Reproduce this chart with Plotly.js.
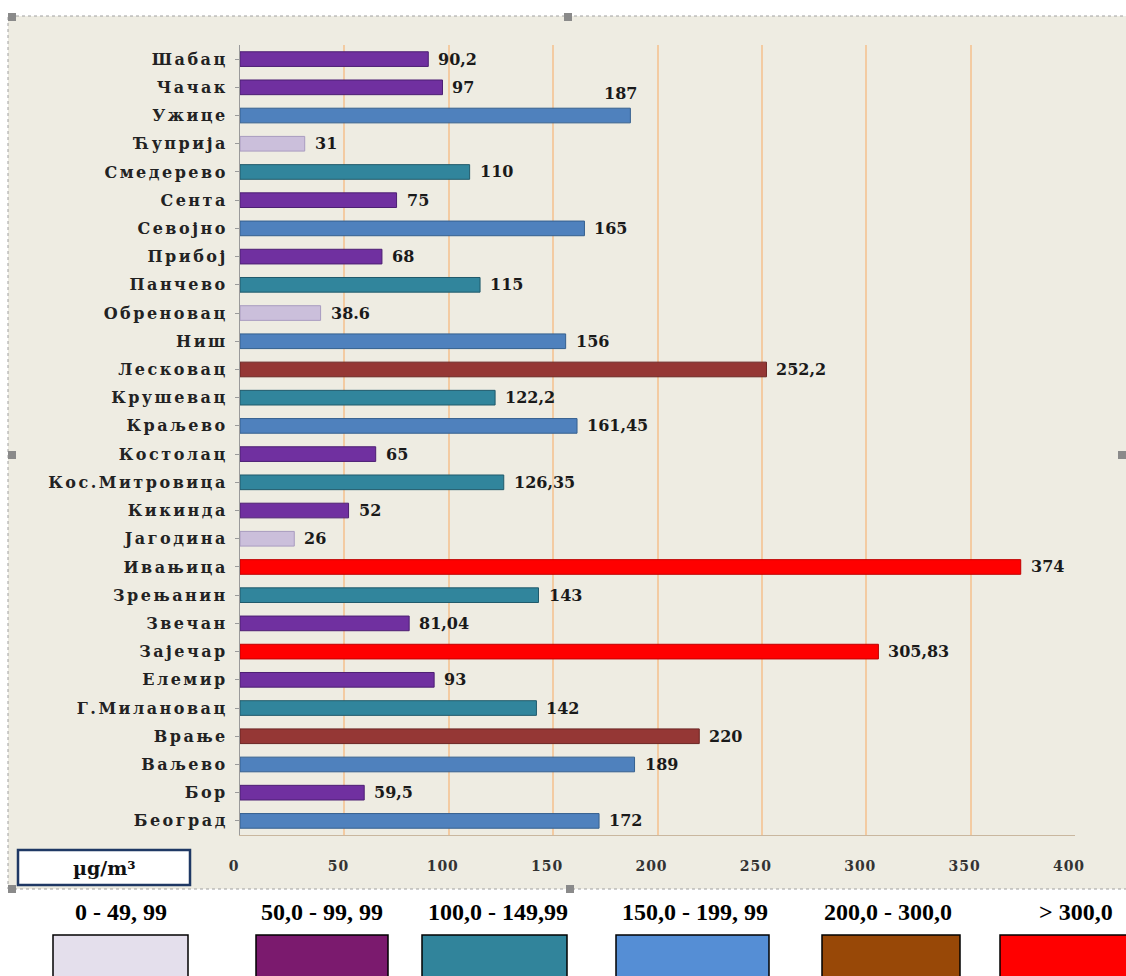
<!DOCTYPE html>
<html><head><meta charset="utf-8">
<script src="https://cdn.plot.ly/plotly-3.0.1.min.js"></script>
<style>
html,body{margin:0;padding:0;background:#fff;}
#chart{width:1126px;height:976px;}
#chart g.ytick text{letter-spacing:2.5px;}
#chart g.xtick text{letter-spacing:1px;}
</style>
</head><body><div id="chart"></div>
<script>
// Categories (bottom to top)
const cities = ["Београд","Бор","Ваљево","Врање","Г.Милановац","Елемир","Зајечар","Звечан","Зрењанин","Ивањица","Јагодина","Кикинда","Кос.Митровица","Костолац","Краљево","Крушевац","Лесковац","Ниш","Обреновац","Панчево","Прибој","Севојно","Сента","Смедерево","Ћуприја","Ужице","Чачак","Шабац"];
const values = [172,59.5,189,220,142,93,305.83,81.04,143,374,26,52,126.35,65,161.45,122.2,252.2,156,38.6,115,68,165,75,110,31,187,97,90.2];
const valueLabels = ["172","59,5","189","220","142","93","305,83","81,04","143","374","26","52","126,35","65","161,45","122,2","252,2","156","38.6","115","68","165","75","110","31","187","97","90,2"];
const xTicks = [0,50,100,150,200,250,300,350,400];
const classLabels = ["0 - 49, 99","50,0 - 99, 99","100,0 - 149,99","150,0 - 199, 99","200,0 - 300,0","> 300,0"];
const classLower = [0,50,100,150,200,300];
const barColors = ["#cbbfdb","#7030a0","#31859c","#4f81bd","#953735","#ff0000"];
const barLines = ["#a99cc0","#4d1f73","#205a6b","#35608f","#6b2523","#c00000"];
const legendColors = ["#e4dfec","#7b1a6e","#31849b","#558ed5","#984807","#ff0000"];
const unitLabel = "µg/m³";

function cls(v){let c=0;for(let i=0;i<classLower.length;i++){if(v>=classLower[i])c=i;}return c;}
const colors = values.map(v=>barColors[cls(v)]);
const lines = values.map(v=>barLines[cls(v)]);

const serif = "DejaVu Serif, Liberation Serif, serif";
const tserif = "Liberation Serif, Times New Roman, serif";
const trace = {
  type:"bar", orientation:"h", y:cities, x:values,
  marker:{color:colors, line:{color:lines, width:1}},
  hoverinfo:"none"
};

// geometry helpers (paper coords)
const L=240, R=1075, T=45, B=835;
const px = p => (p-L)/(R-L);
const py = p => (B-p)/(B-T);

const shapes = [
  {type:"rect", xref:"paper", yref:"paper", x0:px(8), x1:px(1140), y0:py(889), y1:py(16), fillcolor:"#eeece2", line:{color:"#a0a0a0", width:1, dash:"dot"}, layer:"below"},
  {type:"rect", xref:"paper", yref:"paper", x0:px(18), x1:px(190), y0:py(885), y1:py(850), fillcolor:"#ffffff", line:{color:"#1f3864", width:2.5}}
];
// selection handles
[[12,17],[568,17],[12,455],[1122,455],[12,889],[570,889]].forEach(h=>{
  shapes.push({type:"rect", xref:"paper", yref:"paper", x0:px(h[0]-4), x1:px(h[0]+4), y0:py(h[1]+4), y1:py(h[1]-4), fillcolor:"#8a8a8a", line:{width:0}});
});
const annotations = [
  {xref:"paper", yref:"paper", x:px(104), y:py(868), xanchor:"center", yanchor:"middle", text:"<b>"+unitLabel+"</b>", showarrow:false, font:{family:serif, size:19, color:"#111"}}
];
// value labels through data coordinates
for(let i=0;i<values.length;i++){
  const above = (cities[i]==="Ужице");
  annotations.push({x:values[i], y:cities[i], xref:"x", yref:"y", xanchor: above?"center":"left", yanchor:"middle",
    xshift: above?-10:8, yshift: above?22:0, showarrow:false, text:"<b>"+valueLabels[i]+"</b>",
    font:{family:serif, size:16, color:"#1a1a1a"}});
}
const boxX = [[53,188],[256,388],[422,567],[616,769],[822,960],[1000,1140]];
const labX = [121,322,498,695,888,1076];
for(let i=0;i<classLabels.length;i++){
  shapes.push({type:"rect", xref:"paper", yref:"paper", x0:px(boxX[i][0]), x1:px(boxX[i][1]), y0:py(990), y1:py(935), fillcolor:legendColors[i], line:{color:"#000", width:1.5}});
  annotations.push({xref:"paper", yref:"paper", x:px(labX[i]), y:py(912), xanchor:"center", yanchor:"middle", text:"<b>"+classLabels[i]+"</b>", showarrow:false, font:{family:tserif, size:24, color:"#000"}});
}

const layout = {
  width:1126, height:976,
  margin:{l:L, r:1126-R, t:T, b:976-B, pad:0},
  paper_bgcolor:"#ffffff", plot_bgcolor:"rgba(0,0,0,0)",
  showlegend:false, bargap:0.48,
  xaxis:{range:[0,400], tickvals:xTicks, showgrid:true, gridcolor:"#f3cba2", gridwidth:2,
    zeroline:false, showline:true, linecolor:"#c9b79f", ticks:"", ticklabelstandoff:18, ticklabelshift:-6,
    tickfont:{family:serif, size:14, color:"#333", weight:"bold"}, fixedrange:true},
  yaxis:{type:"category", categoryorder:"array", categoryarray:cities, range:[-0.5,27.5],
    showline:true, linecolor:"#9a9a9a", ticks:"outside", ticklen:4, tickcolor:"#9a9a9a",
    tickfont:{family:serif, size:16, color:"#222", weight:"bold"}, ticklabelstandoff:4, fixedrange:true},
  shapes:shapes, annotations:annotations
};
Plotly.newPlot("chart",[trace],layout,{displayModeBar:false, staticPlot:true});
</script></body></html>
